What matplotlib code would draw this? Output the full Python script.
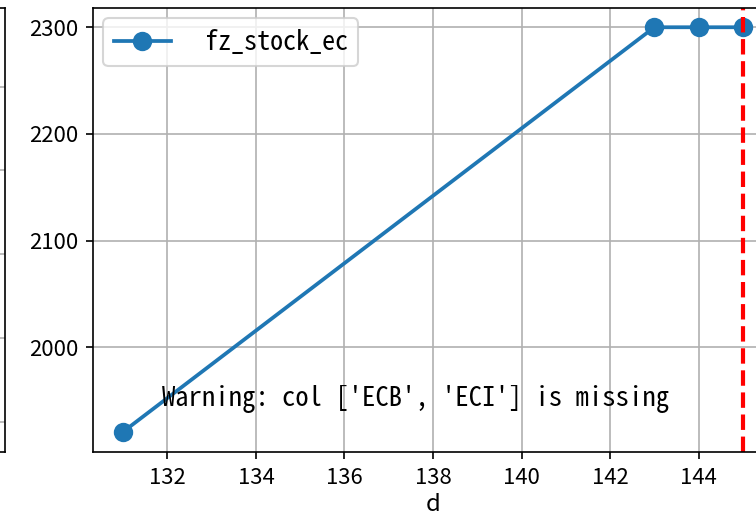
import matplotlib
matplotlib.use("Agg")
import matplotlib.pyplot as plt

# data
x_vals = [131, 143, 144, 145]
y_vals = [1921, 2300, 2300, 2300]
series_label = " fz_stock_ec"
vline_x = 145
x_ticks = [132, 134, 136, 138, 140, 142, 144]
y_ticks = [2000, 2100, 2200, 2300]
warning_text = "Warning: col ['ECB', 'ECI'] is missing"
left_panel_grid = [0.0676, 0.257, 0.446, 0.635, 0.822]

plt.rcParams['font.family'] = ['Noto Sans CJK SC', 'DejaVu Sans']
mono = ['Noto Sans Mono CJK SC', 'DejaVu Sans Mono']

fig = plt.figure(figsize=(5.04, 3.48), dpi=150)

# fragment of neighbouring panel at left
axl = fig.add_axes([-0.6, 0.134, 0.6066, 0.8506])
axl.set_ylim(0, 1)
axl.set_yticks(left_panel_grid)
axl.set_yticklabels([])
axl.tick_params(axis='y', length=0)
axl.set_xticks([])
axl.grid(True, axis='y', color='#b0b0b0', lw=0.8)

ax = fig.add_axes([0.123, 0.134, 0.8995, 0.8506])
ax.plot(x_vals, y_vals, '-o', color='#1f77b4', lw=1.8, markersize=8.3, label=series_label)
ax.axvline(vline_x, color='red', ls='--', lw=2)
ax.set_xlim(130.32, 145.68)
ax.set_ylim(1902, 2318)
ax.set_xticks(x_ticks)
ax.set_yticks(y_ticks)
ax.tick_params(labelsize=10.6)
ax.grid(True, color='#b0b0b0', lw=0.8)
ax.set_xlabel('d', fontsize=11.5, labelpad=2)
ax.text(0.101, 0.12, warning_text, transform=ax.transAxes, ha='left', va='center',
        fontsize=12.8, family=mono, fontweight='light')
leg = ax.legend(loc='upper left', prop={'family': mono, 'size': 12.5, 'weight': 'light'},
                handlelength=2.2, borderaxespad=0.4)

fig.savefig('out.png', dpi=150)
